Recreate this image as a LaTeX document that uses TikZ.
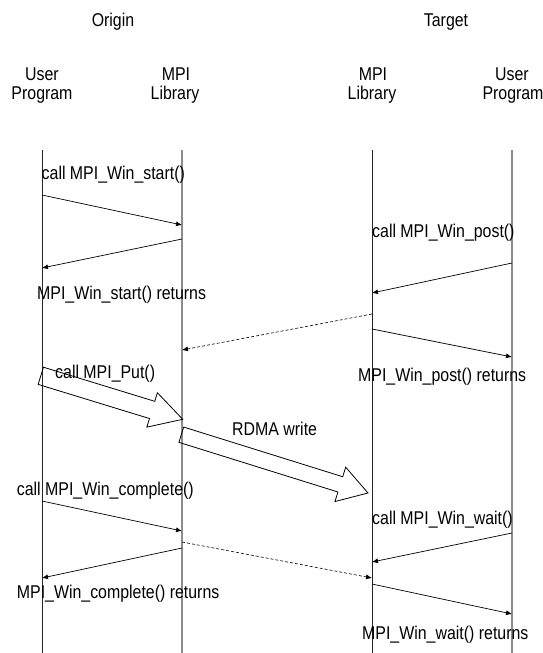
\documentclass[tikz,border=0pt]{standalone}
\usepackage{fontspec}
\setmainfont{Liberation Sans}[FakeStretch=0.86]
\usetikzlibrary{arrows.meta,calc}

\tikzset{
  lbl/.style={inner sep=0pt, anchor=base west, font=\fontsize{18.5}{20}\selectfont},
  hdr/.style={inner sep=0pt, anchor=base, font=\fontsize{18.5}{20}\selectfont},
  lifedark/.style={draw=black!85, line width=0.8pt},
  lifegray/.style={draw=black!45, line width=1.1pt},
  msg/.style={draw=black, line width=0.7pt, -{Latex[length=6pt,width=5pt]}},
  sig/.style={msg, dash pattern=on 3pt off 2pt, line width=0.6pt},
  fat/.style={draw=black, line width=0.8pt, line join=miter}
}

% hollow block arrow: tail, tip, head length, half shaft width, half head width
\newcommand\fatarrow[5]{%
  \coordinate (fa-base) at ($(#2)!#3!(#1)$);
  \draw[fat] ($(#1)!#4!90:(#2)$) -- ($(fa-base)!#4!90:(#2)$)
    -- ($(fa-base)!#5!90:(#2)$) -- (#2)
    -- ($(fa-base)!#5!-90:(#2)$) -- ($(fa-base)!#4!-90:(#2)$)
    -- ($(#1)!#4!-90:(#2)$) -- cycle;
}

\begin{document}
\begin{tikzpicture}[x=1pt, y=-1pt]
\useasboundingbox (0,0) rectangle (543,653);

% headers
\node[hdr] (origin) at (113,26) {Origin};
\node[hdr] (target) at (446,26) {Target};
\node[hdr] (ou-h1) at (42,80) {User};
\node[hdr] (ou-h2) at (42,99.5) {Program};
\node[hdr] (om-h1) at (176,80) {MPI};
\node[hdr] (om-h2) at (175,99.5) {Library};
\node[hdr] (tm-h1) at (373,80) {MPI};
\node[hdr] (tm-h2) at (372,99.5) {Library};
\node[hdr] (tu-h1) at (512,80) {User};
\node[hdr] (tu-h2) at (513,99.5) {Program};

% lifelines
\coordinate (ou-top) at (42,150);  \coordinate (ou-bot) at (42,653);
\coordinate (om-top) at (182,150); \coordinate (om-bot) at (182,653);
\coordinate (tm-top) at (372,150); \coordinate (tm-bot) at (372,653);
\coordinate (tu-top) at (512,150); \coordinate (tu-bot) at (512,653);
\draw[lifedark] (ou-top) -- (ou-bot);
\draw[lifegray] (om-top) -- (om-bot);
\draw[lifedark] (tm-top) -- (tm-bot);
\draw[lifegray] (tu-top) -- (tu-bot);

% MPI_Win_start
\coordinate (s1a) at (42,195);  \coordinate (s1b) at (182,225);
\coordinate (s2a) at (182,239); \coordinate (s2b) at (42,268);
\draw[msg] (s1a) -- (s1b);
\draw[msg] (s2a) -- (s2b);
\node[lbl] (t-start) at (41.5,179) {call MPI\_Win\_start()};
\node[lbl] (t-startr) at (37,299.3) {MPI\_Win\_start() returns};

% MPI_Win_post
\coordinate (p1a) at (512,263); \coordinate (p1b) at (372,293);
\coordinate (p2a) at (372,314); \coordinate (p2b) at (182,350);
\coordinate (p3a) at (372,329); \coordinate (p3b) at (512,357);
\draw[msg] (p1a) -- (p1b);
\draw[sig] (p2a) -- (p2b);
\draw[msg] (p3a) -- (p3b);
\node[lbl] (t-post) at (372,237) {call MPI\_Win\_post()};
\node[lbl] (t-postr) at (358,381.5) {MPI\_Win\_post() returns};

% MPI_Put and the RDMA write
\coordinate (put-tail) at (40.8,375.8);  \coordinate (put-tip) at (182.7,419.3);
\coordinate (rdma-tail) at (181.3,434.7); \coordinate (rdma-tip) at (368,493);
\fatarrow{put-tail}{put-tip}{32pt}{9pt}{18pt}
\fatarrow{rdma-tail}{rdma-tip}{29pt}{8pt}{18pt}
\node[lbl] (t-put) at (55,378) {call MPI\_Put()};
\node[lbl] (t-rdma) at (232,435) {RDMA write};

% MPI_Win_complete
\coordinate (c1a) at (42,501);  \coordinate (c1b) at (182,531);
\coordinate (c2a) at (182,542); \coordinate (c2b) at (372,578);
\coordinate (c3a) at (182,548); \coordinate (c3b) at (42,578);
\draw[msg] (c1a) -- (c1b);
\draw[sig] (c2a) -- (c2b);
\draw[msg] (c3a) -- (c3b);
\node[lbl] (t-comp) at (16.7,495) {call MPI\_Win\_complete()};
\node[lbl] (t-compr) at (16.7,598.3) {MPI\_Win\_complete() returns};

% MPI_Win_wait
\coordinate (w1a) at (512,533); \coordinate (w1b) at (372,562);
\coordinate (w2a) at (372,584); \coordinate (w2b) at (512,614);
\draw[msg] (w1a) -- (w1b);
\draw[msg] (w2a) -- (w2b);
\node[lbl] (t-wait) at (372,524.3) {call MPI\_Win\_wait()};
\node[lbl] (t-waitr) at (362,639) {MPI\_Win\_wait() returns};
\end{tikzpicture}
\end{document}
